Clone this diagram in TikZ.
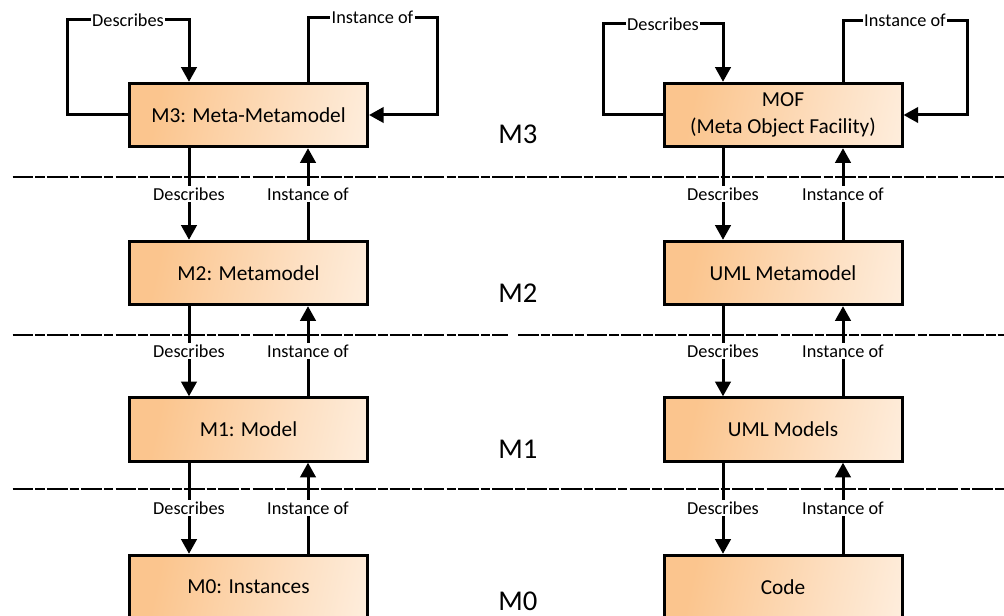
\documentclass[tikz,border=0pt]{standalone}
\usepackage{fontspec}
\setmainfont{Carlito}
\usetikzlibrary{arrows.meta,calc}

\definecolor{boxorange}{RGB}{251,197,142}
\definecolor{boxmid}{RGB}{253,224,195}
\definecolor{boxlight}{RGB}{255,253,250}
\pgfdeclarehorizontalshading{boxfade}{100bp}{%
  color(0bp)=(boxorange); color(28bp)=(boxorange);
  color(62bp)=(boxmid); color(100bp)=(boxlight)}

\tikzset{
  box/.style={draw=black, line width=2.25pt, shading=boxfade, shading angle=-12,
    minimum width=178.5pt, minimum height=47.5pt, inner sep=0pt,
    font=\fontsize{16}{20}\selectfont},
  arr/.style={line width=2.25pt, -{Triangle[width=11.5pt,length=11pt]}},
  lab/.style={fill=white, inner sep=1.2pt, font=\fontsize{13.7}{16}\selectfont},
  level/.style={font=\fontsize{21.5}{26}\selectfont},
  sep/.style={line width=1.5pt, dash pattern=on 15.4pt off 1.6pt on 7.1pt off 1.6pt}
}

\begin{document}
\begin{tikzpicture}[x=0.75pt,y=-0.75pt]
\useasboundingbox (0,0) rectangle (1004,616);
\clip (0,0) rectangle (1004,616);

% level separators
\draw[sep] (12.7,176.7) -- (1004,176.7);
\draw[sep] (12.7,335) -- (508,335);
\draw[sep] (518,335) -- (1004,335);
\draw[sep] (12.7,489) -- (1004,489);

% generic metamodel stack
\node[box] (L3) at (248.5,115) {M3: Meta-Metamodel};
\node[box] (L2) at (248.5,273) {M2: Metamodel};
\node[box] (L1) at (248.5,429.5) {M1: Model};
\node[box] (L0) at (248.5,587) {M0: Instances};

% OMG stack
\node[box,align=center] (R3) at (783,115) {MOF\\(Meta Object Facility)};
\node[box] (R2) at (783,273) {UML Metamodel};
\node[box] (R1) at (783,429.5) {UML Models};
\node[box] (R0) at (783,587) {Code};

% level names
\node[level] (T3) at (518,134) {M3};
\node[level] (T2) at (518,293.5) {M2};
\node[level] (T1) at (518,449) {M1};
\node[level] (T0) at (518,601) {M0};

% links between adjacent levels
\foreach \u/\d/\o in {L3/L2/59.5, L2/L1/59.5, L1/L0/59.5, R3/R2/60, R2/R1/60, R1/R0/60}{
  \draw[arr] ($(\u.south)+(-\o,0)$) -- node[lab]{Describes} ($(\d.north)+(-\o,0)$);
  \draw[arr] ($(\d.north)+(\o,0)$) -- node[lab]{Instance of} ($(\u.south)+(\o,0)$);
}

% self-describing loops on M3
\coordinate (la) at (67,115);
\coordinate (lb) at (67,20);
\coordinate (lc) at (189,20);
\coordinate (ld) at (308,17.7);
\coordinate (le) at (437,17.7);
\coordinate (lf) at (437,115);
\draw[arr] (L3.west) -- (la) -- (lb) -- node[lab]{Describes} (lc) -- ($(L3.north)+(-59.5,0)$);
\draw[arr] ($(L3.north)+(59.5,0)$) -- (ld) -- node[lab]{Instance of} (le) -- (lf) -- (L3.east);

\coordinate (ra) at (603,115);
\coordinate (rb) at (603,24);
\coordinate (rc) at (723,24);
\coordinate (rd) at (843,20.7);
\coordinate (re) at (967,20.7);
\coordinate (rf) at (967,115);
\draw[arr] (R3.west) -- (ra) -- (rb) -- node[lab]{Describes} (rc) -- ($(R3.north)+(-60,0)$);
\draw[arr] ($(R3.north)+(60,0)$) -- (rd) -- node[lab]{Instance of} (re) -- (rf) -- (R3.east);
\end{tikzpicture}
\end{document}
